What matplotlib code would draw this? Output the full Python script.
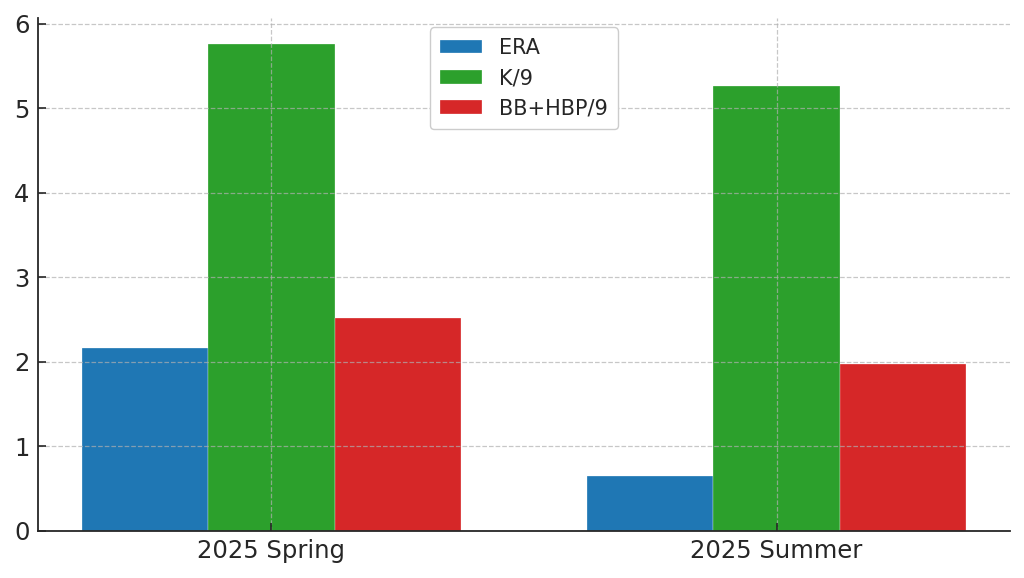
import numpy as np
import matplotlib
matplotlib.use("Agg")
import matplotlib.pyplot as plt

# values
seasons = ["2025 Spring", "2025 Summer"]
era = [2.16, 0.65]
k9 = [5.76, 5.27]
bb_hbp9 = [2.52, 1.98]

series = [("ERA", era, "#1f77b4"),
          ("K/9", k9, "#2ca02c"),
          ("BB+HBP/9", bb_hbp9, "#d62728")]

fig = plt.figure(figsize=(10.24, 5.78), dpi=100)
ax = fig.add_axes([38/1024, 47/578, 972/1024, 513/578])

x = np.arange(len(seasons))
w = 0.25
for i, (name, vals, col) in enumerate(series):
    ax.bar(x + (i - 1)*w, vals, w, label=name, color=col, zorder=2,
           edgecolor="white", linewidth=0.2)

ax.set_xticks(x)
ax.set_xticklabels(seasons)
ax.set_xlim(-0.462, 1.462)
ax.set_ylim(0, 6.07)
ax.set_yticks(range(7))

# grid sits over the bars in the reference
ax.grid(True, linestyle="--", color="#b0b0b0", linewidth=0.9, alpha=0.7, zorder=3)
ax.set_axisbelow(False)
for s in ("top", "right"):
    ax.spines[s].set_visible(False)
for s in ("left", "bottom"):
    ax.spines[s].set_color("#262626")
    ax.spines[s].set_linewidth(1.3)
    ax.spines[s].set_zorder(4)
ax.tick_params(direction="in", length=6, width=1.2, labelsize=17.5,
               colors="#262626", pad=6)

leg = ax.legend(loc="upper center", fontsize=15, handlelength=2.0,
                handleheight=0.65, borderpad=0.5, labelspacing=0.5,
                handletextpad=0.8, framealpha=1, edgecolor="#cccccc",
                borderaxespad=0.45)
leg.set_zorder(5)
for t in leg.get_texts():
    t.set_color("#262626")

fig.savefig("out.png", dpi=100)
